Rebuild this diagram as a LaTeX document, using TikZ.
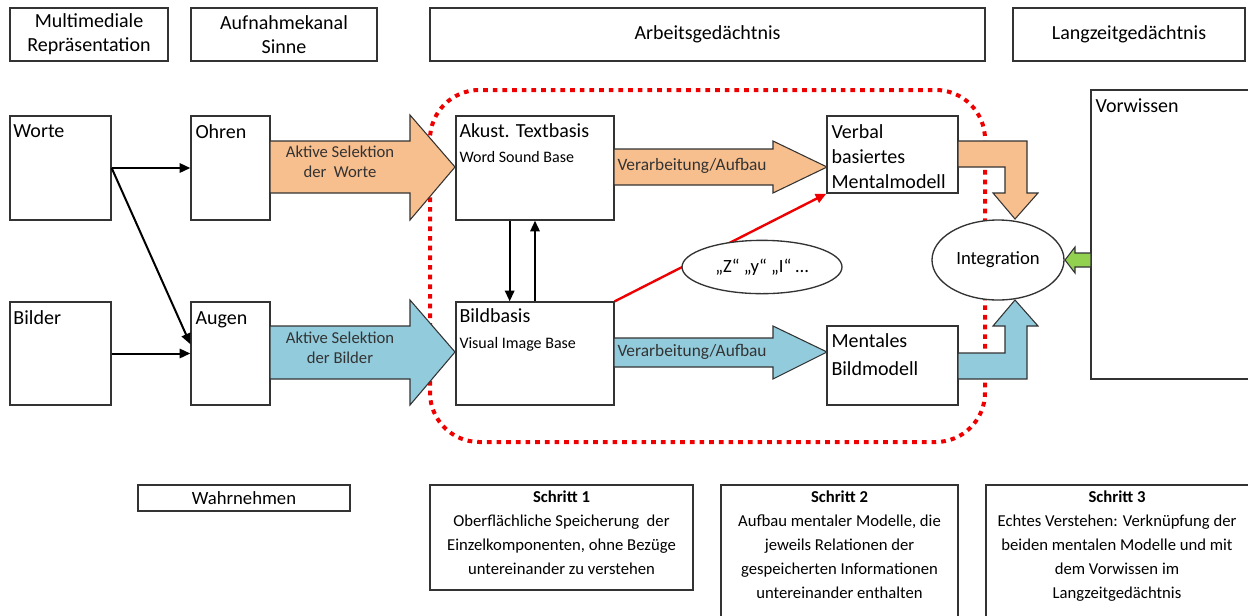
\documentclass[tikz,border=0pt]{standalone}
\usepackage{fontspec}
\setmainfont{Carlito}
\usetikzlibrary{fit,shapes.geometric,arrows.meta}
\definecolor{selorange}{RGB}{247,190,142}
\definecolor{selblue}{RGB}{146,203,220}
\definecolor{vorgreen}{RGB}{146,208,80}
\definecolor{framered}{RGB}{238,0,0}
\tikzset{every picture/.style={line width=0.75pt}}
\tikzset{
box/.style={draw=black!80,line width=1pt,fill=white,inner sep=0pt},
headtext/.style={inner sep=0pt,font=\fontsize{15}{18}\selectfont,align=center},
boxtext/.style={anchor=north west,inner sep=0pt,font=\fontsize{15}{19}\selectfont,align=left},
basetext/.style={anchor=north west,inner sep=0pt,font=\fontsize{12}{14}\selectfont},
arrowtext/.style={inner sep=0pt,font=\fontsize{12.5}{15}\selectfont,align=center,text=black!80},
steptext/.style={anchor=north,inner sep=0pt,font=\fontsize{12.5}{18}\selectfont,align=center},
blockarrow/.style={draw=black!80,line width=0.8pt},
flow/.style={-{Triangle[length=8pt,width=7pt]},line width=1.5pt},
}

\begin{document}
\begin{tikzpicture}[x=0.75pt,y=0.75pt,yscale=-1,xscale=1]
\clip (0,0) rectangle (1248,615);

%Shape: Rounded Rect (Arbeitsgedaechtnis)
\draw[framered,line width=3pt,dash pattern=on 3.5pt off 3.75pt,rounded corners=37pt] (430,90) rectangle (985,442);

%Shape: Rectangle (headers)
\node[box,fit={(10,8) (168,61)}] (multimedia) {};
\node[headtext] (multimedia-t) at (multimedia.center) {Multimediale\\Repräsentation};
\node[box,fit={(191,8) (377,61)}] (aufnahme) {};
\node[headtext] (aufnahme-t) at (aufnahme.center) {Aufnahmekanal\\Sinne};
\node[box,fit={(430,8) (985,61)}] (arbeit) {};
\node[headtext] (arbeit-t) at (arbeit.center) {Arbeitsgedächtnis};
\node[box,fit={(1013,8) (1245,61)}] (langzeit) {};
\node[headtext] (langzeit-t) at (langzeit.center) {Langzeitgedächtnis};

%Shape: Rectangle (Repraesentation, Sinne)
\node[box,fit={(10,116) (111,220)}] (worte) {};
\node[boxtext] (worte-t) at (13,124) {Worte};
\node[box,fit={(191,116) (270,220)}] (ohren) {};
\node[boxtext] (ohren-t) at (195,124) {Ohren};
\node[box,fit={(10,302) (111,405)}] (bilder) {};
\node[boxtext] (bilder-t) at (13,310) {Bilder};
\node[box,fit={(191,302) (270,405)}] (augen) {};
\node[boxtext] (augen-t) at (195,311) {Augen};

%Straight Lines
\draw[flow] (worte.east) -- (ohren.west);
\draw[flow] (worte.east) -- ([yshift=-7pt]augen.west);
\draw[flow] (bilder.east) -- (augen.west);

%Shape: Rectangle (Arbeitsgedaechtnis)
\node[box,fit={(456,116) (614,220)}] (akust) {};
\node[boxtext] (akust-t) at (459,123) {Akust. Textbasis};
\node[basetext] (akust-s) at (459,151) {Word Sound Base};
\node[box,fit={(456,302) (614,405)}] (bild) {};
\node[boxtext] (bild-t) at (459,308) {Bildbasis};
\node[basetext] (bild-s) at (459,337) {Visual Image Base};
\node[box,fit={(827,116) (958,193)}] (verbal) {};
\node[boxtext,font=\fontsize{15}{18.75}\selectfont] (verbal-t) at (831,124) {Verbal\\basiertes\\Mentalmodell};
\node[box,fit={(827,326) (958,405)}] (mental) {};
\node[boxtext,font=\fontsize{15}{21}\selectfont] (mental-t) at (831,333) {Mentales\\Bildmodell};

%Straight Lines
\draw[flow] ([xshift=-19pt]akust.south) -- ([xshift=-19pt]bild.north);
\draw[flow] (bild.north) -- (akust.south);
\draw[flow,framered,line width=1.8pt] (bild.north east) -- (verbal.south west);

%Shape: Ellipse
\node[draw=black!80,line width=1pt,fill=white,ellipse,minimum width=120pt,minimum height=40pt,font=\fontsize{14}{16}\selectfont] (zeichen) at (762,267) {„Z“ „y“ „I“ …};

%Shape: Right Arrow (Selektion)
\draw[blockarrow,fill=selorange] (270,141) -- (410,141) -- (410,115) -- (455,167) -- (410,220) -- (410,193) -- (270,193) -- cycle;
\node[arrowtext] (selworte) at (340,162) {Aktive Selektion\\der~ Worte};
\draw[blockarrow,fill=selblue] (270,326) -- (410,326) -- (410,300) -- (455,352) -- (410,405) -- (410,379) -- (270,379) -- cycle;
\node[arrowtext] (selbilder) at (340,348) {Aktive Selektion\\der Bilder};

%Shape: Right Arrow (Verarbeitung)
\draw[blockarrow,fill=selorange] (614,149) -- (773,149) -- (773,141) -- (827,167) -- (773,193) -- (773,185) -- (614,185) -- cycle;
\node[arrowtext,anchor=west,font=\fontsize{13}{15}\selectfont] (verarbeit1) at (617,166) {Verarbeitung/Aufbau};
\draw[blockarrow,fill=selblue] (614,338) -- (773,338) -- (773,326) -- (827,352) -- (773,379) -- (773,367) -- (614,367) -- cycle;
\node[arrowtext,anchor=west,font=\fontsize{13}{15}\selectfont] (verarbeit2) at (617,352) {Verarbeitung/Aufbau};

%Shape: Bent Arrow
\draw[blockarrow,fill=selorange] (958,141) -- (1027,141) -- (1027,193) -- (1038,193) -- (1015,219) -- (993,193) -- (1005,193) -- (1005,167) -- (958,167) -- cycle;
\draw[blockarrow,fill=selblue] (958,379) -- (1027,379) -- (1027,326) -- (1038,326) -- (1015,300) -- (993,326) -- (1005,326) -- (1005,353) -- (958,353) -- cycle;

%Shape: Ellipse
\node[draw=black!80,line width=1pt,fill=white,ellipse,minimum width=99pt,minimum height=60pt,font=\fontsize{14}{16}\selectfont] (integration) at (998,260) {Integration};

%Shape: Rectangle (Langzeitgedaechtnis)
\node[box,fit={(1091,90) (1262,379)}] (vorwissen) {};
\node[boxtext] (vorwissen-t) at (1095,98) {Vorwissen};

%Shape: Left Arrow
\draw[blockarrow,fill=vorgreen] (1091,253) -- (1075,253) -- (1075,247) -- (1065,260) -- (1075,273) -- (1075,267) -- (1091,267) -- cycle;

%Shape: Rectangle (Schritte)
\node[box,fit={(138,485) (350,511)}] (wahrnehmen) {};
\node[headtext,font=\fontsize{14}{16}\selectfont] (wahrnehmen-t) at (wahrnehmen.center) {Wahrnehmen};
\node[box,fit={(430,485) (693,590)}] (schritt1) {};
\node[steptext] (schritt1-t) at (561.5,490) {\textbf{Schritt 1}\\Oberflächliche Speicherung~ der\\Einzelkomponenten, ohne Bezüge\\untereinander zu verstehen};
\node[box,fit={(721,485) (958,625)}] (schritt2) {};
\node[steptext] (schritt2-t) at (839.5,490) {\textbf{Schritt 2}\\Aufbau mentaler Modelle, die\\jeweils Relationen der\\gespeicherten Informationen\\untereinander enthalten};
\node[box,fit={(986,485) (1260,625)}] (schritt3) {};
\node[steptext] (schritt3-t) at (1117,490) {\textbf{Schritt 3}\\Echtes Verstehen: Verknüpfung der\\beiden mentalen Modelle und mit\\dem Vorwissen im\\Langzeitgedächtnis};

\end{tikzpicture}
\end{document}
